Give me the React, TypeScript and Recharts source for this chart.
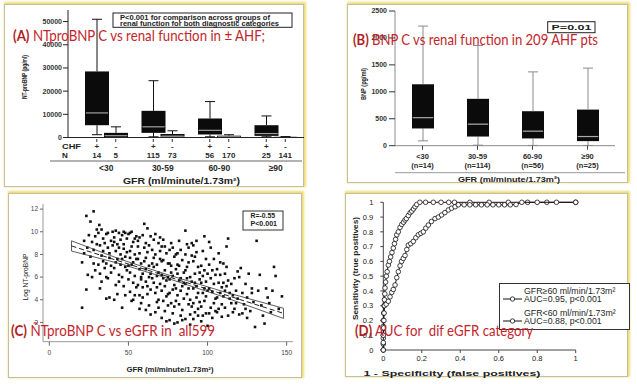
import React from "react";
import { Bar, BarChart, Legend, Scatter, ScatterChart, XAxis, YAxis } from "recharts";

const FONT = "'Liberation Sans', Arial, sans-serif";
const TITLE_FONT = "Lato, 'Open Sans', sans-serif";
const RED = "#c3262c";

// (A) NT-proBNP by GFR group, with (+) / without (-) CHF
const gfrGroups = ["<30", "30-59", "60-90", "≥90"];
const chfSigns = ["+", "-"];
const chfPlusN = [14, 115, 56, 25];
const chfMinusN = [5, 73, 170, 141];
// [whisker low, q1, median, q3, whisker high] in pg/ml
const ntproPlus = [
  [1200, 5300, 10600, 28500, 51000],
  [300, 2000, 4600, 11500, 24500],
  [300, 1300, 3100, 8200, 15500],
  [300, 700, 1700, 5300, 9300],
];
const ntproMinus = [
  [0, 200, 780, 2000, 4600],
  [0, 350, 600, 1500, 2900],
  [0, 150, 300, 780, 1200],
  [0, 80, 150, 250, 400],
];
const ntproTicks = [0, 10000, 20000, 30000, 40000, 50000];

// (B) BNP in 209 AHF patients
const bnpN = [14, 114, 56, 25];
const bnpStats = [
  [90, 320, 520, 1140, 2220],
  [10, 170, 400, 870, 1860],
  [5, 135, 270, 640, 1370],
  [5, 85, 170, 670, 1440],
];
const bnpTicks = [0, 500, 1000, 1500, 2000, 2500];

// (C) log NT-proBNP vs GFR, [gfr, log]
const cohortPoints: [number, number][] = [
  [20.7, 3.3], [20.7, 7.3], [22, 9.2], [23.4, 11.4], [23.4, 4.9], [24.3, 6.2], [24, 8.6], [22, 8.1], [25, 9.7],
  [26, 10.9], [28, 11.8], [27, 9.1], [26, 7.8], [28, 8.4], [29, 6.6], [27, 6.0], [29, 9.6], [28, 7.2], [30, 10.2],
  [31.6, 10.6], [31, 9.9], [32, 8.8], [33, 7.9], [34, 9.4], [31, 7.1], [32, 6.3], [33, 5.6], [34, 8.3], [30, 8.9],
  [33, 10.2], [35, 9.0], [34, 7.4], [32, 5.0], [35, 6.8],
  [36, 9.8], [37, 8.6], [38, 7.7], [36, 4.1], [37, 5.9], [39, 9.2], [38, 8.1], [39, 6.4], [36, 7.2], [40, 10.0],
  [40, 8.8], [38, 4.2], [37, 9.9], [39, 7.0], [36, 6.0],
  [41, 9.5], [42, 8.3], [43, 7.6], [44, 9.9], [41, 6.8], [42, 5.3], [43, 4.5], [44, 8.6], [45, 7.1], [41, 9.1],
  [42, 10.1], [43, 8.9], [44, 6.2], [45, 9.3], [41, 4.0], [44, 5.6], [45, 8.0], [42, 7.3],
  [46, 9.7], [47, 8.5], [48, 7.8], [49, 6.6], [46, 3.3], [47, 5.2], [48, 9.9], [49, 8.2], [50, 7.0], [46, 6.0],
  [47, 10.0], [48, 4.4], [49, 9.4], [50, 5.8], [46, 7.6], [47, 8.9], [50, 9.8], [48, 6.9],
  [51, 9.9], [52, 8.7], [53, 7.3], [54, 6.1], [51, 4.7], [52, 3.9], [53, 9.1], [54, 8.0], [55, 7.6], [51, 6.4],
  [52, 10.0], [53, 5.5], [54, 4.4], [55, 9.6], [51, 8.3], [52, 7.1], [53, 4.0], [55, 5.1], [54, 9.4], [51, 7.7],
  [56, 9.2], [57, 8.1], [58, 7.2], [59, 6.3], [56, 5.3], [57, 4.4], [58, 3.7], [59, 9.7], [60, 8.6], [56, 7.6],
  [57, 6.7], [58, 5.8], [59, 4.2], [60, 10.7], [56, 8.7], [57, 9.5], [58, 6.0], [60, 7.4], [59, 5.1], [57, 3.2],
  [61, 9.0], [62, 8.2], [63, 7.0], [64, 6.3], [61, 5.6], [62, 4.5], [63, 3.5], [64, 9.6], [65, 8.4], [61, 7.7],
  [62, 10.3], [63, 6.0], [64, 4.9], [65, 7.2], [61, 3.1], [63, 8.8], [62, 5.2], [65, 5.9], [64, 2.7], [61, 6.7],
  [66, 9.3], [67, 8.0], [68, 7.1], [69, 6.4], [66, 5.5], [67, 4.6], [68, 3.8], [69, 9.0], [70, 8.3], [66, 6.9],
  [67, 2.9], [68, 5.1], [69, 4.0], [70, 7.6], [66, 7.7], [67, 9.8], [68, 6.1], [70, 5.4], [69, 3.3], [70, 9.5],
  [71, 8.7], [72, 7.5], [73, 6.6], [74, 5.7], [71, 4.8], [72, 3.9], [73, 3.0], [74, 8.1], [75, 7.2], [71, 6.2],
  [72, 9.3], [73, 5.2], [74, 4.3], [75, 6.0], [71, 2.4], [73, 8.7], [72, 5.9], [75, 4.5], [74, 2.1], [71, 7.4], [75, 3.5],
  [76, 8.4], [77, 7.0], [78, 6.1], [79, 5.3], [76, 4.6], [77, 3.7], [78, 2.8], [79, 7.8], [80, 6.7], [76, 5.8],
  [77, 9.0], [78, 4.9], [79, 3.4], [80, 5.0], [76, 2.2], [78, 8.6], [77, 6.4], [80, 3.9], [79, 1.9], [76, 7.2], [80, 8.0],
  [81, 8.1], [82, 7.0], [83, 5.9], [84, 5.2], [81, 4.4], [82, 3.6], [83, 2.6], [84, 7.5], [85, 6.4], [81, 6.3],
  [82, 9.2], [83, 4.8], [84, 3.1], [85, 5.5], [81, 2.0], [83, 8.4], [82, 5.7], [85, 4.1], [84, 2.2], [81, 7.1],
  [86, 10.1], [87, 8.9], [88, 7.3], [89, 6.0], [86, 5.4], [87, 4.5], [88, 3.6], [89, 2.7], [90, 7.9], [86, 6.6],
  [87, 5.9], [88, 5.0], [89, 4.0], [90, 5.6], [86, 2.3], [88, 8.6], [87, 6.9], [90, 3.4], [89, 1.8], [86, 8.0], [90, 9.0],
  [91, 7.4], [92, 6.3], [93, 5.2], [94, 4.6], [91, 3.7], [92, 2.9], [93, 8.2], [94, 6.9], [95, 5.8], [91, 5.0],
  [92, 7.8], [93, 4.2], [94, 3.2], [95, 6.4], [91, 2.3], [93, 9.2], [92, 5.5], [95, 3.8], [94, 2.6], [91, 8.8],
  [96, 7.0], [97, 6.1], [98, 5.0], [99, 4.3], [96, 3.4], [97, 2.6], [98, 9.6], [99, 7.6], [100, 6.3], [96, 5.5],
  [97, 8.3], [98, 3.9], [99, 2.8], [100, 4.8], [96, 2.1], [100, 1.7], [98, 6.6], [99, 5.6], [97, 4.6],
  [101, 7.1], [102, 5.9], [103, 4.7], [104, 3.7], [101, 2.8], [102, 8.6], [103, 6.6], [104, 5.4], [105, 4.1],
  [101, 5.0], [102, 3.3], [103, 2.4], [105, 6.2], [104, 7.6], [101, 9.1], [105, 3.0],
  [106, 6.7], [107, 5.5], [108, 4.6], [109, 3.6], [106, 2.9], [107, 8.1], [108, 6.2], [109, 5.1], [110, 4.3],
  [106, 4.2], [107, 3.2], [110, 5.5], [108, 7.3], [109, 2.5], [110, 7.2],
  [111, 6.3], [112, 5.2], [113, 9.4], [114, 4.1], [111, 3.3], [112, 8.7], [113, 5.7], [114, 4.6], [115, 3.7],
  [111, 4.8], [115, 5.4], [113, 2.6], [112, 6.9],
  [116, 4.4], [117, 5.9], [118, 3.7], [119, 6.5], [116, 2.9], [118, 4.8], [120, 6.0], [117, 3.2], [119, 4.1], [120, 2.7],
  [121, 6.8], [122, 4.6], [123, 3.6], [124, 5.4], [125, 4.2], [126, 6.3], [127, 3.0], [128, 5.0], [129, 3.8],
  [130, 1.6], [122, 2.8], [125, 2.4], [128, 4.6], [124, 3.2],
  [131, 9.2], [132, 4.8], [133, 6.2], [134, 3.5], [136, 1.9], [137, 5.0], [138, 4.2], [140, 2.9], [141, 4.8],
  [142, 6.9], [143, 6.1], [145, 3.2], [147, 4.3], [135, 2.6], [139, 3.7],
];
const fitLine: [number, number][] = [[14, 8.75], [148, 2.8]];
const fitBand: [number, number][] = [
  [14, 9.2], [45, 7.57], [75, 6.2], [110, 4.72], [148, 3.25],
  [148, 2.35], [110, 4.26], [75, 5.88], [45, 7.17], [14, 8.3], [14, 9.2],
];
const gfrTicks = [0, 50, 100, 150];
const logTicks = [2, 4, 6, 8, 10, 12];

// (D) ROC curves, [1 - specificity, sensitivity]
const rocHighGfr: [number, number][] = [
  [0, 0], [0, 0.04], [0, 0.08], [0, 0.12], [0, 0.16], [0, 0.2], [0.002, 0.25], [0.004, 0.3], [0.006, 0.34],
  [0.008, 0.38], [0.009, 0.42], [0.012, 0.46], [0.016, 0.5], [0.02, 0.53], [0.026, 0.575], [0.032, 0.6],
  [0.038, 0.63], [0.045, 0.66], [0.052, 0.69], [0.058, 0.72], [0.064, 0.75], [0.07, 0.78], [0.078, 0.8],
  [0.087, 0.83], [0.096, 0.85], [0.105, 0.865], [0.113, 0.88], [0.12, 0.89], [0.13, 0.91], [0.14, 0.93],
  [0.148, 0.94], [0.157, 0.955], [0.165, 0.97], [0.174, 0.985], [0.19, 1], [0.22, 1], [0.26, 1], [0.3, 1],
  [0.34, 1], [0.37, 1], [0.45, 1], [0.55, 1], [0.65, 1], [0.75, 1], [0.85, 1], [1, 1],
];
const rocLowGfr: [number, number][] = [
  [0, 0], [0, 0.05], [0, 0.1], [0.002, 0.15], [0.003, 0.2], [0.004, 0.25], [0.006, 0.3], [0.015, 0.31],
  [0.026, 0.33], [0.035, 0.36], [0.044, 0.39], [0.052, 0.41], [0.061, 0.44], [0.07, 0.49], [0.078, 0.53],
  [0.087, 0.57], [0.095, 0.6], [0.104, 0.62], [0.113, 0.64], [0.122, 0.68], [0.13, 0.71], [0.143, 0.72],
  [0.156, 0.735], [0.169, 0.76], [0.182, 0.78], [0.195, 0.79], [0.208, 0.8], [0.221, 0.825], [0.234, 0.846],
  [0.25, 0.87], [0.269, 0.89], [0.286, 0.9], [0.303, 0.914], [0.32, 0.93], [0.338, 0.948], [0.355, 0.96],
  [0.373, 0.97], [0.39, 0.983], [0.42, 0.983], [0.45, 0.983], [0.48, 0.983], [0.51, 0.983], [0.54, 0.983],
  [0.57, 0.983], [0.6, 0.983], [0.63, 0.983], [0.66, 0.983], [0.69, 0.985], [0.72, 1], [0.8, 1], [0.9, 1], [1, 1],
];
const rocNames = ["GFR≥60 ml/min/1.73m²", "GFR<60 ml/min/1.73m²"];
const rocAuc = ["AUC=0.95, p<0.001", "AUC=0.88, p<0.001"];
const rocXTicks = [0, 0.2, 0.4, 0.6, 0.8, 1];
const rocYTicks = [0, 0.1, 0.2, 0.3, 0.4, 0.5, 0.6, 0.7, 0.8, 0.9, 1];

const stackKeys = ["base", "wLo", "boxLo", "boxHi", "wHi"];
const toStack = (s: number[]) => [s[0], s[1] - s[0], s[2] - s[1], s[3] - s[2], s[4] - s[3]];
const toXY = (pts: [number, number][]) => pts.map(([x, y]) => ({ x, y }));

const dataA = gfrGroups.map((group, i) => {
  const row: Record<string, string | number> = { group };
  toStack(ntproPlus[i]).forEach((v, k) => (row[`p_${stackKeys[k]}`] = v));
  toStack(ntproMinus[i]).forEach((v, k) => (row[`m_${stackKeys[k]}`] = v));
  return row;
});
const dataB = gfrGroups.map((group, i) => {
  const row: Record<string, string | number> = { group };
  toStack(bnpStats[i]).forEach((v, k) => (row[stackKeys[k]] = v));
  return row;
});

// one shape per stacked segment: invisible base, whiskers, two halves of the box
function boxShapes(whisker: string, median: string, cap: number): Record<string, (p: any) => React.ReactElement> {
  return {
    base: () => <g />,
    wLo: ({ x, y, width, height }) => {
      const cx = x + width / 2;
      return (
        <g stroke={whisker} strokeWidth={1}>
          <line x1={cx} x2={cx} y1={y} y2={y + height} />
          <line x1={cx - cap} x2={cx + cap} y1={y + height} y2={y + height} />
        </g>
      );
    },
    boxLo: ({ x, y, width, height }) => <rect x={x} y={y} width={width} height={height} fill="#0b0b0b" />,
    boxHi: ({ x, y, width, height }) => (
      <g>
        <rect x={x} y={y} width={width} height={height} fill="#0b0b0b" />
        <line x1={x + 1} x2={x + width - 1} y1={y + height} y2={y + height} stroke={median} strokeWidth={1.2} />
      </g>
    ),
    wHi: ({ x, y, width, height }) => {
      const cx = x + width / 2;
      return (
        <g stroke={whisker} strokeWidth={1}>
          <line x1={cx} x2={cx} y1={y} y2={y + height} />
          <line x1={cx - cap} x2={cx + cap} y1={y} y2={y} />
        </g>
      );
    },
  };
}
const shapesA = boxShapes("#111", "#9c9c9c", 5);
const shapesB = boxShapes("#8a8a8a", "#a8a8a8", 5);

function GroupTickA({ x, y, payload }: any) {
  const i = gfrGroups.indexOf(payload.value);
  const counts = [chfPlusN[i], chfMinusN[i]];
  return (
    <g fontFamily={FONT} fontWeight={700} fill="#2a2a2a" textAnchor="middle">
      {[-9.5, 9.5].map((dx, k) => (
        <g key={k}>
          <line x1={x + dx} x2={x + dx} y1={y + 1.5} y2={y + 4.5} stroke="#333" />
          <text x={x + dx} y={y + 11} fontSize={8}>{chfSigns[k]}</text>
          <text x={x + dx} y={y + 20.5} fontSize={8}>{counts[k]}</text>
        </g>
      ))}
      <text x={x} y={y + 33.5} fontSize={8.5}>{payload.value}</text>
    </g>
  );
}

function GroupTickB({ x, y, payload }: any) {
  const i = gfrGroups.indexOf(payload.value);
  return (
    <g fontFamily={FONT} fontWeight={700} fill="#2a2a2a" textAnchor="middle" fontSize={7.5}>
      <text x={x} y={y + 9.7}>{payload.value}</text>
      <text x={x} y={y + 18}>{`(n=${bnpN[i]})`}</text>
    </g>
  );
}

// legend rows follow the series order of rocNames, whatever order recharts hands them in
function RocLegend({ payload }: any) {
  const names = (payload ?? []).map((e: any) => e.value);
  const ordered = rocNames.filter((n) => names.length === 0 || names.includes(n));
  return (
    <div
      style={{
        border: "1px solid #333",
        background: "#fff",
        boxSizing: "border-box",
        width: 131,
        height: 47,
        padding: "4px 0 0 3px",
        fontFamily: FONT,
        fontSize: 8.8,
        lineHeight: "7.6px",
        color: "#262626",
      }}
    >
      {ordered.map((name, i) => (
        <div key={name} style={{ display: "flex", alignItems: "flex-end", marginBottom: i === 0 ? 7 : 0 }}>
          <svg width={19} height={8} style={{ flex: "none" }}>
            <line x1={0} x2={19} y1={4} y2={4} stroke="#111" />
            <circle cx={9.5} cy={4} r={2.2} fill="#fff" stroke="#111" strokeWidth={0.8} />
          </svg>
          <div style={{ marginLeft: 2, whiteSpace: "nowrap" }}>
            <div>{name}</div>
            <div>{rocAuc[rocNames.indexOf(name)]}</div>
          </div>
        </div>
      ))}
    </div>
  );
}

const Dot = ({ cx, cy }: any) => <rect x={cx - 1.3} y={cy - 1.3} width={2.6} height={2.6} fill="#111" />;
const Ring = ({ cx, cy }: any) => <circle cx={cx} cy={cy} r={2.3} fill="#fff" stroke="#111" strokeWidth={0.8} />;
const NoMark = () => <g />;

function Txt({ x, y, size, bold, len, rot, anchor = "middle", color = "#222", children }: any) {
  return (
    <text
      transform={`translate(${x},${y})${rot ? " rotate(-90)" : ""}`}
      fontSize={size}
      fontWeight={bold ? 700 : 400}
      textAnchor={anchor}
      fill={color}
      textLength={len}
      lengthAdjust="spacingAndGlyphs"
      style={{ whiteSpace: "pre" }}
    >
      {children}
    </text>
  );
}

function Title({ x, y, len, tag, rest }: any) {
  return (
    <text
      x={x}
      y={y}
      fontFamily={TITLE_FONT}
      fontSize={15}
      fill={RED}
      textLength={len}
      lengthAdjust="spacingAndGlyphs"
      style={{ whiteSpace: "pre" }}
    >
      <tspan fontWeight={700} fill="#b01e24">{tag}</tspan>
      {rest}
    </text>
  );
}

const frameStyle = (left: number, top: number, width: number, height: number): React.CSSProperties => ({
  position: "absolute",
  left,
  top,
  width,
  height,
  boxSizing: "border-box",
  border: "1px solid #c4bf9f",
  boxShadow: "1px -1px 2px 1px rgba(236, 214, 92, 0.85)",
  background: "#fff",
});

const abs = (left: number, top: number): React.CSSProperties => ({ position: "absolute", left, top });

export default function App() {
  const tickA = { fontSize: 7, fontWeight: 700, fill: "#333", fontFamily: FONT };
  const tickC = { fontSize: 6.5, fill: "#444", fontFamily: FONT };
  const tickD = { fontSize: 7.5, fill: "#222", fontFamily: FONT };
  return (
    <div style={{ position: "absolute", left: 0, top: 0, width: 637, height: 384, background: "#fff", overflow: "hidden", fontFamily: FONT }}>
      <div style={frameStyle(4, 4, 300, 183)} />
      <div style={frameStyle(347, 4, 281, 179)} />
      <div style={frameStyle(8, 193, 294, 185)} />
      <div style={frameStyle(345, 193, 283, 184)} />

      {/* (A) */}
      <div style={abs(0, 0)}>
        <BarChart width={310} height={190} data={dataA} margin={{ top: 10, right: 6, bottom: 0, left: 0 }} barGap={-5}>
          <XAxis
            dataKey="group"
            height={52.5}
            padding={{ left: 10, right: 0 }}
            tickLine={false}
            tickSize={0}
            tickMargin={0}
            interval={0}
            axisLine={{ stroke: "#222" }}
            tick={<GroupTickA />}
          />
          <YAxis width={68} domain={[0, 55000]} ticks={ntproTicks} tick={tickA} tickSize={5} tickMargin={1} axisLine={{ stroke: "#222" }} tickLine={{ stroke: "#222" }} />
          {stackKeys.map((k) => (
            <Bar key={`p_${k}`} dataKey={`p_${k}`} stackId="p" barSize={24} shape={shapesA[k]} isAnimationActive={false} />
          ))}
          {stackKeys.map((k) => (
            <Bar key={`m_${k}`} dataKey={`m_${k}`} stackId="m" barSize={24} shape={shapesA[k]} isAnimationActive={false} />
          ))}
        </BarChart>
      </div>

      {/* (B) */}
      <div style={abs(330, 0)}>
        <BarChart width={300} height={190} data={dataB} margin={{ top: 11, right: 15, bottom: 0, left: 0 }}>
          <XAxis dataKey="group" height={44.3} tickSize={4} tickMargin={0} interval={0} axisLine={{ stroke: "#8a8a8a" }} tickLine={{ stroke: "#444" }} tick={<GroupTickB />} />
          <XAxis xAxisId="top" orientation="top" type="number" domain={[0, 1]} height={0} tick={false} tickLine={false} axisLine={{ stroke: "#8a8a8a" }} />
          <YAxis width={65} domain={[0, 2500]} ticks={bnpTicks} tick={tickA} tickSize={6} tickMargin={2} axisLine={{ stroke: "#8a8a8a" }} tickLine={{ stroke: "#333" }} />
          <YAxis yAxisId="right" orientation="right" type="number" domain={[0, 1]} width={0} tick={false} tickLine={false} axisLine={{ stroke: "#8a8a8a" }} />
          {stackKeys.map((k) => (
            <Bar key={k} dataKey={k} stackId="b" barSize={22} shape={shapesB[k]} isAnimationActive={false} />
          ))}
        </BarChart>
      </div>

      {/* (C) */}
      <div style={abs(0, 190)}>
        <ScatterChart width={305} height={190} margin={{ top: 14, right: 12, bottom: 0, left: 0 }}>
          <XAxis dataKey="x" type="number" domain={[-4, 154]} ticks={gfrTicks} height={38.3} tick={tickC} tickSize={4} tickMargin={5} axisLine={{ stroke: "#999" }} tickLine={{ stroke: "#666" }} />
          <XAxis xAxisId="top" orientation="top" type="number" domain={[0, 1]} height={0} tick={false} tickLine={false} axisLine={{ stroke: "#999" }} />
          <YAxis dataKey="y" type="number" domain={[0.3, 12.45]} ticks={logTicks} width={43} tick={tickC} tickSize={3} tickMargin={2} axisLine={{ stroke: "#999" }} tickLine={{ stroke: "#666" }} />
          <YAxis yAxisId="right" orientation="right" type="number" domain={[0, 1]} width={0} tick={false} tickLine={false} axisLine={{ stroke: "#999" }} />
          <Scatter data={toXY(cohortPoints)} shape={Dot} isAnimationActive={false} />
          <Scatter data={toXY(fitBand)} line={{ stroke: "#333", strokeWidth: 0.8 }} lineType="joint" shape={NoMark} isAnimationActive={false} />
          <Scatter data={toXY(fitLine)} line={{ stroke: "#222", strokeWidth: 1, strokeDasharray: "5 3" }} lineType="joint" shape={NoMark} isAnimationActive={false} />
        </ScatterChart>
      </div>

      {/* (D) */}
      <div style={abs(330, 190)}>
        <ScatterChart width={300} height={190} margin={{ top: 12.3, right: 54.3, bottom: 0, left: 0 }}>
          <XAxis dataKey="x" type="number" domain={[0, 1]} ticks={rocXTicks} height={30} tick={tickD} tickSize={3} tickMargin={3} axisLine={{ stroke: "#444" }} tickLine={{ stroke: "#444" }} />
          <YAxis dataKey="y" type="number" domain={[0, 1]} ticks={rocYTicks} width={53.3} tick={tickD} tickSize={3} tickMargin={7} axisLine={{ stroke: "#444" }} tickLine={{ stroke: "#444" }} />
          <Scatter name={rocNames[0]} data={toXY(rocHighGfr)} line={{ stroke: "#111", strokeWidth: 1 }} lineType="joint" shape={Ring} isAnimationActive={false} />
          <Scatter name={rocNames[1]} data={toXY(rocLowGfr)} line={{ stroke: "#111", strokeWidth: 1 }} lineType="joint" shape={Ring} isAnimationActive={false} />
          <Legend
            layout="vertical"
            align="center"
            verticalAlign="middle"
            content={<RocLegend />}
            wrapperStyle={{ left: 169, top: 93, width: 131, height: 47 }}
          />
        </ScatterChart>
      </div>

      <svg width={637} height={384} style={{ position: "absolute", left: 0, top: 0, pointerEvents: "none" }} fontFamily={FONT}>
        {/* A annotations */}
        <Txt x={26.5} y={77} size={7} bold rot len={44}>NT-proBNP (pg/ml)</Txt>
        <Txt x={62} y={149} size={8} bold anchor="start" len={19}>CHF</Txt>
        <Txt x={62} y={158} size={8} bold anchor="start">N</Txt>
        <line x1={50} x2={302} y1={161} y2={161} stroke="#666" />
        <Txt x={181.5} y={183.5} size={8.5} bold len={117}>GFR (ml/minute/1.73m²)</Txt>
        <rect x={113} y={13} width={179} height={14.3} fill="#fff" stroke="#222" />
        <Txt x={120} y={19.8} size={6.8} bold anchor="start" len={150}>P&lt;0.001 for comparison across groups of</Txt>
        <Txt x={120} y={25.8} size={6.8} bold anchor="start" len={159}>renal function for both diagnostic categories</Txt>

        {/* B annotations */}
        <Txt x={365.5} y={84} size={7} bold rot len={32}>BNP (pg/ml)</Txt>
        <rect x={547.7} y={21.7} width={47.3} height={11} fill="#fff" stroke="#222" />
        <Txt x={571.5} y={30} size={7.5} bold len={40}>P=0.01</Txt>
        <line x1={395} x2={625} y1={172.7} y2={172.7} stroke="#999" />
        <Txt x={509} y={182} size={7.5} bold len={102}>GFR (ml/minute/1.73m²)</Txt>

        {/* C annotations */}
        <Txt x={27.5} y={277} size={7} rot len={47}>Log NT-proBNP</Txt>
        <Txt x={170} y={372} size={7} bold len={87}>GFR (ml/minute/1.73m²)</Txt>
        <rect x={243} y={211} width={40} height={19} fill="#fff" stroke="#333" />
        <Txt x={250.5} y={217.5} size={7} bold anchor="start" len={24.5}>R=-0.55</Txt>
        <Txt x={250.5} y={226.3} size={7} bold anchor="start" len={26.5}>P&lt;0.001</Txt>

        {/* D annotations */}
        <Txt x={357.5} y={268.5} size={7.5} bold rot len={103}>Sensitivity (true positives)</Txt>
        <Txt x={452} y={376} size={8} bold len={177}>1 - Specificity (false positives)</Txt>

        {/* slide captions */}
        <Title x={13} y={41} len={252} tag="(A)" rest=" NTproBNP C vs renal function in ± AHF;" />
        <Title x={353} y={45} len={245} tag="(B)" rest=" BNP C vs renal function in 209 AHF pts" />
        <Title x={11} y={335.5} len={204} tag="(C)" rest=" ÑTproBNP C vs eGFR in  all599" />
        <Title x={355} y={335.5} len={178} tag="(D)" rest=" AUC for  dif eGFR category" />
      </svg>
    </div>
  );
}
